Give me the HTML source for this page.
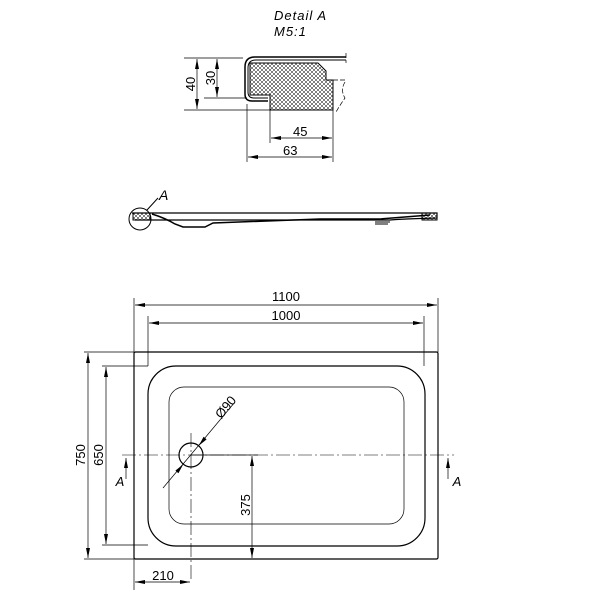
<!DOCTYPE html>
<html><head><style>body{margin:0;background:#fff}svg{display:block}</style></head><body>
<svg width="600" height="600" viewBox="0 0 600 600" xmlns="http://www.w3.org/2000/svg" font-family="Liberation Sans, sans-serif">
<defs>
<pattern id="h" width="4" height="4" patternUnits="userSpaceOnUse"><path d="M0 0L4 4M4 0L0 4" stroke="#000" stroke-width="0.5"/></pattern>
</defs>
<g font-style="italic" font-size="13"><text x="274" y="20" letter-spacing="1">Detail  A</text><text x="274" y="36" letter-spacing="1">M5:1</text></g>
<g fill="none" stroke="#000" stroke-width="1">
<path d="M346 57H255Q245 57 245 67V94Q245 101 252 101H268" stroke-width="1.5"/>
<path d="M346 60H256Q248 60 248 68V92Q248 98 254 98H268"/>
<path d="M250 63H318L326 71V80H333V110H270V95H250Z" fill="url(#h)"/>
<path d="M333 80H345M346 53V63M345 82Q340 90 345 98Q340 105 336 112" stroke-dasharray="5 2" stroke-width="0.7"/>
<path d="M184 58H243M184 110H270M204 98H247M247 104V162M270 110V143M333 110V162" stroke-width="0.7"/>
<path d="M197 59V109M217 59V97M271 138H332M248 157H332" stroke-width="0.7"/>
</g>
<g fill="#000">
<polygon points="197,59 195,69 199,69"/><polygon points="197,109 195,99 199,99"/>
<polygon points="217,59 215,69 219,69"/><polygon points="217,97 215,87 219,87"/>
<polygon points="271,138 281,136 281,140"/><polygon points="332,138 322,136 322,140"/>
<polygon points="248,157 258,155 258,159"/><polygon points="332,157 322,155 322,159"/>
</g>
<g font-size="13"><text x="293" y="136">45</text><text x="283" y="155">63</text>
<text transform="translate(195 84) rotate(-90)" text-anchor="middle">40</text>
<text transform="translate(215 78) rotate(-90)" text-anchor="middle">30</text></g>
<!-- section -->
<g fill="none" stroke="#000">
<path d="M132 213H437V218Q400 219 390 220H135" stroke-width="1.2"/>
<path d="M152 214Q165 218 175 224L183 227H205L213 223L320 219H380L430 215" stroke-width="1.5"/>
<path d="M375 222H390M375 224H388"/>
<rect x="133" y="213" width="17" height="7" fill="url(#h)"/>
<rect x="422" y="213" width="15" height="7" fill="url(#h)"/>
<circle cx="140" cy="219" r="11"/>
<path d="M147 210L158 198"/>
</g>
<text x="159" y="200" font-style="italic" font-size="14">A</text>
<!-- plan -->
<g fill="none" stroke="#000">
<rect x="134" y="352" width="304" height="207" rx="1.5" stroke-width="1.2"/>
<rect x="148" y="366" width="277" height="180" rx="28" stroke-width="1.2"/>
<rect x="169" y="387" width="235" height="137" rx="15" stroke-width="0.7"/>
<circle cx="191" cy="455" r="12" stroke-width="1.2"/>
<path d="M122 455H454" stroke-width="0.6" stroke-dasharray="14 3 2 3"/>
<path d="M191 433V580" stroke-width="0.6" stroke-dasharray="14 3 2 3"/>
<g stroke-width="0.7">
<path d="M134 298V590M438 298V352M148 316V366M424 316V366"/>
<path d="M84 352H134M102 366H148M84 559H134M102 545H148M191 455H258"/>
<path d="M135 305H437M149 323H423M88 353V558M106 367V544M252 456V558M135 582H190"/>
<path d="M163 488L235 402"/>
<path d="M126 479V458M448 479V458"/>
</g>
</g>
<g fill="#000">
<polygon points="135,305 145,303 145,307"/><polygon points="437,305 427,303 427,307"/>
<polygon points="149,323 159,321 159,325"/><polygon points="423,323 413,321 413,325"/>
<polygon points="135,582 145,580 145,584"/><polygon points="190,582 180,580 180,584"/>
<polygon points="88,353 86,363 90,363"/><polygon points="88,558 86,548 90,548"/>
<polygon points="106,367 104,377 108,377"/><polygon points="106,544 104,534 108,534"/>
<polygon points="252,456 250,466 254,466"/><polygon points="252,558 250,548 254,548"/>
<polygon points="126,458 124,468 128,468"/><polygon points="448,458 446,468 450,468"/>
<polygon points="198.7,445.8 206.6,439.4 203.6,436.8"/><polygon points="183.3,464.2 178.4,473.2 175.4,470.6"/>
</g>
<g font-size="13" text-anchor="middle">
<text x="286" y="301">1100</text><text x="286" y="320">1000</text>
<text x="163" y="580">210</text>
<text transform="translate(85 455) rotate(-90)">750</text>
<text transform="translate(103 455) rotate(-90)">650</text>
<text transform="translate(250 505) rotate(-90)">375</text>
<text transform="translate(229 410) rotate(-50)">Ø90</text>
<text x="120" y="486" font-style="italic">A</text><text x="457" y="486" font-style="italic">A</text>
</g>
</svg>
</body></html>
